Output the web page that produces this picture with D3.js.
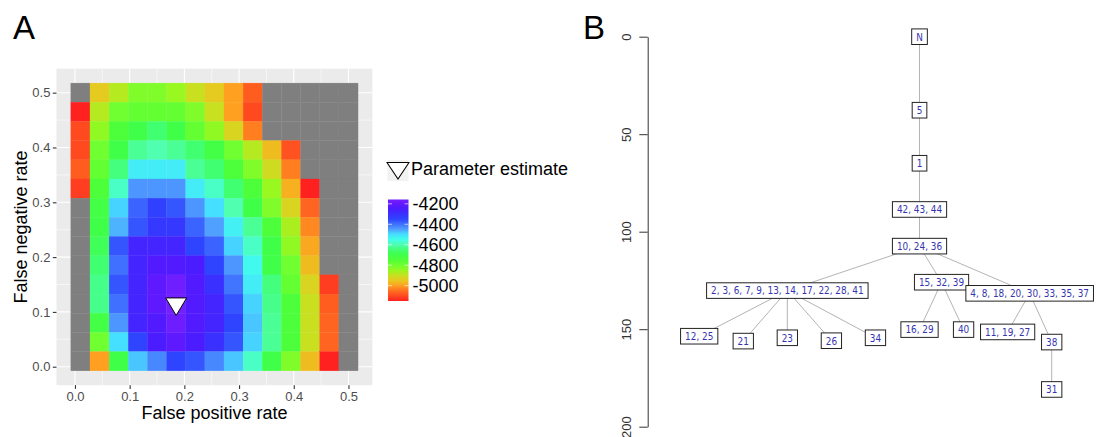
<!DOCTYPE html>
<html>
<head>
<meta charset="utf-8">
<script src="https://cdn.jsdelivr.net/npm/d3@7"></script>
<style>
  body { margin: 0; background: #fff; }
  svg { display: block; }
</style>
</head>
<body>
<svg id="fig" width="1096" height="437"></svg>
<script>
// ---------- Panel A: log-likelihood over the two error rates ----------
const fpRates = [0.01, 0.045, 0.08, 0.115, 0.15, 0.185, 0.22, 0.255, 0.29, 0.325, 0.36, 0.395, 0.43, 0.465, 0.5];
// rows run from the top of the grid (false negative rate 0.5) downwards
const fnRates = [0.5, 0.465, 0.43, 0.395, 0.36, 0.325, 0.29, 0.255, 0.22, 0.185, 0.15, 0.115, 0.08, 0.045, 0.01];
const logLik = [
  [null, -4945, -4880, -4820, -4820, -4850, -4900, -4945, -5000, -5075, null, null, null, null, null],
  [-5150, -4880, -4800, -4780, -4780, -4780, -4820, -4900, -5000, -5100, null, null, null, null, null],
  [-5100, -4840, -4740, -4700, -4650, -4700, -4780, -4840, -4925, -5035, null, null, null, null, null],
  [-5100, -4800, -4700, -4620, -4600, -4620, -4650, -4710, -4800, -4880, -4965, -5090, null, null, null],
  [-5075, -4780, -4640, -4520, -4520, -4520, -4620, -4650, -4740, -4820, -4910, -5035, null, null, null],
  [-5115, -4740, -4580, -4440, -4440, -4440, -4520, -4580, -4650, -4740, -4850, -4980, -5150, null, null],
  [null, -4710, -4490, -4385, -4340, -4370, -4440, -4500, -4600, -4700, -4820, -4925, -5065, null, null],
  [null, -4700, -4465, -4370, -4320, -4320, -4385, -4450, -4525, -4620, -4740, -4870, -5025, null, null],
  [null, -4680, -4370, -4270, -4270, -4270, -4350, -4385, -4490, -4580, -4700, -4840, -4990, null, null],
  [null, -4650, -4400, -4270, -4235, -4235, -4250, -4350, -4440, -4540, -4700, -4800, -4965, null, null],
  [null, -4630, -4370, -4270, -4210, -4170, -4235, -4300, -4405, -4520, -4640, -4780, -4925, -5115, null],
  [null, -4630, -4400, -4270, -4210, -4158, -4235, -4270, -4370, -4490, -4630, -4740, -4900, -5075, null],
  [null, -4710, -4440, -4270, -4235, -4175, -4235, -4270, -4350, -4480, -4620, -4740, -4900, -5065, null],
  [null, -4800, -4500, -4350, -4250, -4210, -4250, -4300, -4370, -4490, -4620, -4740, -4900, -5065, null],
  [null, -5000, -4700, -4480, -4425, -4350, -4370, -4425, -4480, -4580, -4700, -4820, -4965, -5150, null]
];
const estimateFp = 0.185;
const estimateFn = 0.11;
const rateTicks = [0, 0.1, 0.2, 0.3, 0.4, 0.5];
const legendTicks = [-4200, -4400, -4600, -4800, -5000];

// ---------- Panel B: transmission tree ----------
const nodeLabels = [
  "N", "5", "1", "42, 43, 44", "10, 24, 36",
  "2, 3, 6, 7, 9, 13, 14, 17, 22, 28, 41", "15, 32, 39", "4, 8, 18, 20, 30, 33, 35, 37",
  "12, 25", "21", "23", "26", "34",
  "16, 29", "40",
  "11, 19, 27", "38",
  "31"
];
const nodeParents = [-1, 0, 1, 2, 3, 4, 4, 4, 5, 5, 5, 5, 5, 6, 6, 7, 7, 16];
const nodeTimes = [0, 37.7, 64.9, 88.6, 107.4, 130.2, 125.9, 131.6, 153.6, 156.1, 154.4, 155.9, 154.4, 150.2, 150.2, 151.4, 156.6, 180.9];
const timeTicks = [0, 50, 100, 150, 200];

// ---------- shared styling ----------
const sans = "'Liberation Sans', Arial, Helvetica, sans-serif";
const svg = d3.select("#fig");

// colour ramp used by the tiles and the colour bar (red = low, violet = high)
const rampStops = [
  [-5150, "#ff2020"], [-5100, "#ff4a20"], [-5050, "#ff7020"], [-5000, "#ffa020"],
  [-4950, "#e8c820"], [-4900, "#c8e020"], [-4850, "#98f820"], [-4800, "#70ff30"],
  [-4750, "#50ff38"], [-4700, "#40ff48"], [-4650, "#40ff70"], [-4600, "#50ffb0"],
  [-4550, "#40ffe8"], [-4500, "#45e0ff"], [-4450, "#50a0ff"], [-4400, "#4070ff"],
  [-4350, "#2e44ff"], [-4300, "#3a30ff"], [-4250, "#4a1cff"], [-4200, "#6418ff"],
  [-4150, "#7622ff"]
];
const fill = d3.scaleLinear()
  .domain(rampStops.map(d => d[0]))
  .range(rampStops.map(d => d[1]))
  .clamp(true);

// ---------- Panel A drawing ----------
const halfX = (fpRates[1] - fpRates[0]) / 2;
const xLo = d3.min(fpRates) - halfX, xHi = d3.max(fpRates) + halfX;
const xPad = (xHi - xLo) * 0.05;
const halfY = (fnRates[0] - fnRates[1]) / 2;
const yLo = d3.min(fnRates) - halfY, yHi = d3.max(fnRates) + halfY;
const yPad = (yHi - yLo) * 0.05;

const x = d3.scaleLinear().domain([xLo - xPad, xHi + xPad]).range([56.5, 372.4]);
const y = d3.scaleLinear().domain([yLo - yPad, yHi + yPad]).range([385.2, 68.7]);

const pA = svg.append("g");
pA.append("rect")
  .attr("x", x.range()[0]).attr("y", y.range()[1])
  .attr("width", x.range()[1] - x.range()[0])
  .attr("height", y.range()[0] - y.range()[1])
  .attr("fill", "#ebebeb");

const minor = [0.05, 0.15, 0.25, 0.35, 0.45];
pA.selectAll(".vminor").data(minor).join("line")
  .attr("x1", d => x(d)).attr("x2", d => x(d))
  .attr("y1", y.range()[0]).attr("y2", y.range()[1])
  .attr("stroke", "#fff").attr("stroke-width", 0.55);
pA.selectAll(".hminor").data(minor).join("line")
  .attr("y1", d => y(d)).attr("y2", d => y(d))
  .attr("x1", x.range()[0]).attr("x2", x.range()[1])
  .attr("stroke", "#fff").attr("stroke-width", 0.55);
pA.selectAll(".vmajor").data(rateTicks).join("line")
  .attr("x1", d => x(d)).attr("x2", d => x(d))
  .attr("y1", y.range()[0]).attr("y2", y.range()[1])
  .attr("stroke", "#fff").attr("stroke-width", 1.1);
pA.selectAll(".hmajor").data(rateTicks).join("line")
  .attr("y1", d => y(d)).attr("y2", d => y(d))
  .attr("x1", x.range()[0]).attr("x2", x.range()[1])
  .attr("stroke", "#fff").attr("stroke-width", 1.1);

const cells = [];
fnRates.forEach((fn, r) => fpRates.forEach((fp, c) => cells.push({ fp, fn, v: logLik[r][c] })));
pA.selectAll(".cell").data(cells).join("rect")
  .attr("x", d => x(d.fp - halfX))
  .attr("y", d => y(d.fn + halfY))
  .attr("width", d => x(d.fp + halfX) - x(d.fp - halfX))
  .attr("height", d => y(d.fn - halfY) - y(d.fn + halfY))
  .attr("fill", d => d.v == null ? "#7f7f7f" : fill(d.v))
  .attr("stroke", d => d.v == null ? "#7f7f7f" : fill(d.v))
  .attr("stroke-width", 0.3);

// parameter estimate marker
const tri = d3.path();
tri.moveTo(-10.5, -8.5); tri.lineTo(10.5, -8.5); tri.lineTo(0, 9); tri.closePath();
pA.append("path")
  .attr("d", tri.toString())
  .attr("transform", `translate(${x(estimateFp)},${y(estimateFn)})`)
  .attr("fill", "#fff").attr("stroke", "#000").attr("stroke-width", 1);

// axes
const fmt = d3.format(".1f");
const axB = pA.append("g").attr("transform", `translate(0,${y.range()[0]})`)
  .call(d3.axisBottom(x).tickValues(rateTicks).tickFormat(fmt).tickSize(3.7).tickPadding(3.2));
const axL = pA.append("g").attr("transform", `translate(${x.range()[0]},0)`)
  .call(d3.axisLeft(y).tickValues(rateTicks).tickFormat(fmt).tickSize(3.7).tickPadding(2.4));
[axB, axL].forEach(a => {
  a.select(".domain").remove();
  a.selectAll(".tick line").attr("stroke", "#333").attr("stroke-width", 1.1);
  a.selectAll(".tick text").attr("fill", "#4d4d4d").style("font-family", sans).style("font-size", "13px");
});

pA.append("text")
  .attr("x", (x.range()[0] + x.range()[1]) / 2).attr("y", 419)
  .attr("text-anchor", "middle")
  .style("font-family", sans).style("font-size", "18px").attr("fill", "#000")
  .text("False positive rate");
pA.append("text")
  .attr("transform", `translate(27,${(y.range()[0] + y.range()[1]) / 2}) rotate(-90)`)
  .attr("text-anchor", "middle")
  .style("font-family", sans).style("font-size", "18px").attr("fill", "#000")
  .text("False negative rate");

// legend: marker key
const leg = svg.append("g");
leg.append("rect").attr("x", 387.5).attr("y", 160).attr("width", 21).attr("height", 21).attr("fill", "#f2f2f2");
leg.append("path")
  .attr("d", tri.toString())
  .attr("transform", "translate(398,170.5) scale(1.05,0.95)")
  .attr("fill", "#fff").attr("stroke", "#000").attr("stroke-width", 1);
leg.append("text")
  .attr("x", 411).attr("y", 174.5)
  .style("font-family", sans).style("font-size", "18px").attr("fill", "#000")
  .text("Parameter estimate");

// legend: colour bar
const allVals = logLik.flat().filter(v => v != null);
const vMin = d3.min(allVals), vMax = d3.max(allVals);
const ly = d3.scaleLinear().domain([vMin, vMax]).range([301, 199.5]);
const defs = svg.append("defs");
const grad = defs.append("linearGradient").attr("id", "barGrad")
  .attr("x1", 0).attr("y1", 1).attr("x2", 0).attr("y2", 0);
d3.range(0, 1.0001, 0.02).forEach(t => {
  grad.append("stop").attr("offset", t).attr("stop-color", fill(vMin + t * (vMax - vMin)));
});
leg.append("rect")
  .attr("x", 388).attr("y", ly(vMax)).attr("width", 20.5).attr("height", ly(vMin) - ly(vMax))
  .attr("fill", "url(#barGrad)");
leg.selectAll(".btick").data(legendTicks).join("g").each(function (d) {
  const g = d3.select(this);
  g.append("line").attr("x1", 388).attr("x2", 392).attr("y1", ly(d)).attr("y2", ly(d))
    .attr("stroke", "#fff").attr("stroke-width", 0.8).attr("opacity", 0.8);
  g.append("line").attr("x1", 404.5).attr("x2", 408.5).attr("y1", ly(d)).attr("y2", ly(d))
    .attr("stroke", "#fff").attr("stroke-width", 0.8).attr("opacity", 0.8);
  g.append("text").attr("x", 412.5).attr("y", ly(d) + 6.4)
    .style("font-family", sans).style("font-size", "18px").attr("fill", "#000")
    .text(d);
});

// ---------- Panel B drawing ----------
const ty = d3.scaleLinear().domain([0, 200]).range([36.7, 426.7]);
const pB = svg.append("g");
const axT = pB.append("g").attr("transform", "translate(647.7,0)")
  .call(d3.axisLeft(ty).tickValues(timeTicks).tickSize(8.4).tickSizeOuter(0));
axT.select(".domain").attr("stroke", "#333").attr("stroke-width", 1);
axT.selectAll(".tick line").attr("stroke", "#333").attr("stroke-width", 1);
axT.selectAll(".tick text")
  .attr("x", 0).attr("dy", null)
  .attr("transform", "translate(-17,0) rotate(-90)")
  .attr("text-anchor", "middle")
  .attr("fill", "#333")
  .style("font-family", sans).style("font-size", "13px");

const table = nodeLabels.map((label, i) => ({ id: String(i), parent: nodeParents[i] < 0 ? null : String(nodeParents[i]), label, time: nodeTimes[i] }));
const root = d3.stratify().id(d => d.id).parentId(d => d.parent)(table);
// leaves evenly spaced, each parent centred over its children
d3.cluster().separation(() => 1).size([1, 1])(root);
const leafX = d3.scaleLinear().domain(d3.extent(root.leaves(), n => n.x)).range([699.2, 1051.7]);
root.each(n => { n.px = leafX(n.x); n.py = ty(n.data.time); });

pB.selectAll(".edge").data(root.links()).join("line")
  .attr("x1", d => d.source.px).attr("y1", d => d.source.py)
  .attr("x2", d => d.target.px).attr("y2", d => d.target.py)
  .attr("stroke", "#b4b4b4").attr("stroke-width", 1);

const nodeG = pB.selectAll(".node").data(root.descendants()).join("g")
  .attr("transform", d => `translate(${d.px},${d.py})`);
const boxRect = nodeG.append("rect").attr("fill", "#fff").attr("stroke", "#222").attr("stroke-width", 1);
const boxText = nodeG.append("text")
  .attr("text-anchor", "middle").attr("y", 3.8)
  .style("font-family", "'DejaVu Sans Condensed', 'DejaVu Sans', Verdana, sans-serif")
  .style("font-stretch", "condensed")
  .style("font-size", "9.9px")
  .attr("fill", "#3434b0")
  .text(d => d.data.label);
boxText.each(function (d) { d.tw = this.getComputedTextLength(); });
boxRect
  .attr("x", d => -d.tw / 2 - 4.5).attr("y", -7.8)
  .attr("width", d => d.tw + 9).attr("height", 15.6);

// panel letters
svg.append("text").attr("x", 13).attr("y", 39)
  .style("font-family", sans).style("font-size", "33px").attr("fill", "#000").text("A");
svg.append("text").attr("x", 583).attr("y", 39)
  .style("font-family", sans).style("font-size", "33px").attr("fill", "#000").text("B");
</script>
</body>
</html>
